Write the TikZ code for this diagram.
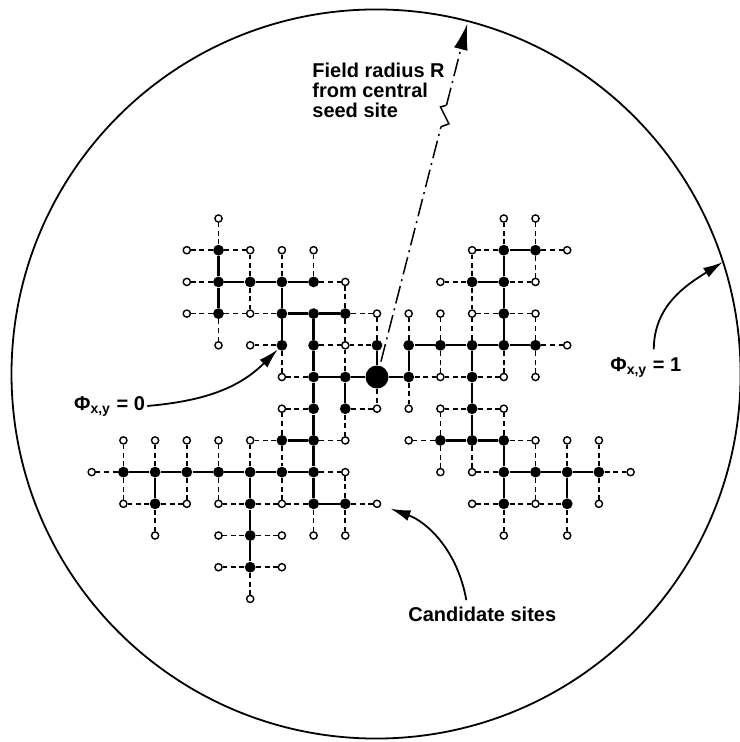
\documentclass[tikz,border=0pt]{standalone}
\usepackage{fontspec}
\setmainfont{Liberation Sans}
\usetikzlibrary{arrows.meta}

\begin{document}
\begin{tikzpicture}[x=15.85pt, y=15.85pt, >={Latex[length=10pt,width=5.5pt]},
  grown/.style={circle, fill=black, inner sep=0pt, minimum size=5.4pt},
  cand/.style={circle, draw, fill=white, line width=0.7pt, inner sep=0pt, minimum size=3.6pt},
  seedsite/.style={circle, fill=black, inner sep=0pt, minimum size=11.5pt},
  bond/.style={line width=1.15pt},
  link/.style={line width=0.85pt, dash pattern=on 2.5pt off 1.8pt},
  radius/.style={line width=0.75pt, dash pattern=on 9pt off 2.5pt on 1pt off 2.5pt},
  pointer/.style={line width=0.9pt, ->},
  lbl/.style={font=\bfseries\fontsize{10}{10}\selectfont, inner sep=1pt}]

\useasboundingbox (-11.893,-11.514) rectangle (11.420,11.893);

% Field boundary
\draw[line width=0.9pt] (-0.03,0.095) circle (11.5);

% Central seed site
\node[seedsite] (s0_0) at (0,0) {};

% Grown (occupied) sites
\foreach \i/\j in {-5/4, -5/3, -4/3, -3/3, -2/3, -5/2, -3/2, -2/2, -1/2, -3/1, -2/1, 0/1, -2/0, -1/0,
  -2/-1, -1/-1, -3/-2, -2/-2, -8/-3, -7/-3, -6/-3, -5/-3, -4/-3, -3/-3, -2/-3, -7/-4, -4/-4, -2/-4, -1/-4, -4/-5, -4/-6,
  1/1, 2/1, 3/1, 4/1, 5/1, 1/0, 3/0, 4/2, 3/3, 4/3, 4/4, 5/4,
  3/-1, 2/-2, 3/-2, 4/-2, 4/-3, 5/-3, 6/-3, 7/-3, 4/-4, 6/-4}
  \node[grown] (s\i_\j) at (\i,\j) {};

% Candidate sites
\foreach \i/\j in {-5/5, -6/4, -4/4, -3/4, -2/4, -6/3, -1/3, -6/2, -4/2, 0/2, -5/1, -4/1, -1/1, -3/0,
  -3/-1, 0/-1, -4/-2, -1/-2, -8/-2, -7/-2, -6/-2, -5/-2, -9/-3, -1/-3, -8/-4, -6/-4, -5/-4, -3/-4, 0/-4,
  -7/-5, -5/-5, -3/-5, -2/-5, -1/-5, -5/-6, -3/-6, -4/-7,
  4/5, 5/5, 3/4, 6/4, 2/3, 5/3, 1/2, 2/2, 3/2, 5/2, 6/1, 2/0, 4/0, 5/0, 1/-1, 2/-1, 4/-1, 1/-2,
  5/-2, 6/-2, 7/-2, 2/-3, 3/-3, 8/-3, 3/-4, 5/-4, 7/-4, 4/-5, 6/-5}
  \node[cand] (s\i_\j) at (\i,\j) {};

% Bonds of the cluster
\foreach \a/\b/\c/\d in {0/0/1/0, 0/0/-1/0, 0/0/0/1,
  -1/0/-2/0, -2/0/-2/1, -2/1/-2/2, -2/2/-3/2, -2/2/-1/2, -3/2/-3/1, -3/2/-3/3, -3/3/-4/3, -4/3/-5/3,
  -3/3/-2/3, -5/3/-5/4, -5/3/-5/2,
  -2/0/-2/-1, -1/0/-1/-1, -2/-1/-2/-2, -2/-2/-3/-2, -2/-2/-2/-3, -8/-3/-7/-3, -7/-3/-6/-3, -6/-3/-5/-3,
  -5/-3/-4/-3, -4/-3/-3/-3, -3/-3/-2/-3, -7/-3/-7/-4, -4/-3/-4/-4, -4/-4/-4/-5, -4/-5/-4/-6,
  -2/-3/-2/-4, -2/-4/-1/-4,
  1/0/1/1, 1/1/2/1, 2/1/3/1, 3/1/4/1, 4/1/5/1, 4/1/4/2, 4/2/4/3, 4/3/4/4, 3/3/4/3, 4/4/5/4, 3/1/3/0,
  3/0/3/-1, 3/-1/3/-2, 2/-2/3/-2, 3/-2/4/-2, 4/-2/4/-3, 4/-3/5/-3, 5/-3/6/-3, 6/-3/7/-3, 4/-3/4/-4, 6/-3/6/-4}
  \draw[bond] (s\a_\b) -- (s\c_\d);

% Links to candidate sites
\foreach \a/\b/\c/\d in {-5/4/-5/5, -5/4/-6/4, -5/4/-4/4, -4/3/-4/4, -3/3/-3/4, -2/3/-2/4, -5/3/-6/3,
  -2/3/-1/3, -1/2/-1/3, -5/2/-6/2, -5/2/-4/2, -4/3/-4/2, -3/2/-4/2, -1/2/0/2, 0/1/0/2, -5/2/-5/1,
  -3/1/-4/1, -1/2/-1/1, -2/1/-1/1, 0/1/-1/1, -1/0/-1/1, -3/1/-3/0, -2/0/-3/0,
  -2/-1/-3/-1, -3/-2/-3/-1, 0/0/0/-1, -1/-1/0/-1, -3/-2/-4/-2, -4/-3/-4/-2, -1/-1/-1/-2, -2/-2/-1/-2,
  -3/-2/-3/-3,
  -8/-3/-8/-2, -7/-3/-7/-2, -6/-3/-6/-2, -5/-3/-5/-2, -8/-3/-9/-3, -2/-3/-1/-3, -1/-4/-1/-3,
  -8/-3/-8/-4, -7/-4/-8/-4, -6/-3/-6/-4, -7/-4/-6/-4, -5/-3/-5/-4, -4/-4/-5/-4, -3/-3/-3/-4,
  -4/-4/-3/-4, -2/-4/-3/-4, -1/-4/0/-4, -7/-4/-7/-5, -4/-5/-5/-5, -4/-5/-3/-5, -2/-4/-2/-5,
  -1/-4/-1/-5, -4/-6/-5/-6, -4/-6/-3/-6, -4/-6/-4/-7,
  4/4/4/5, 5/4/5/5, 4/4/3/4, 3/3/3/4, 5/4/6/4, 3/3/2/3, 5/4/5/3, 4/3/5/3, 1/1/1/2, 2/1/2/2,
  3/3/3/2, 4/2/3/2, 3/1/3/2, 4/2/5/2, 5/1/5/2, 5/1/6/1, 1/0/2/0, 2/1/2/0, 3/0/2/0, 3/0/4/0,
  4/1/4/0, 5/1/5/0, 1/0/1/-1, 2/-2/2/-1, 3/-1/2/-1, 3/-1/4/-1, 4/-2/4/-1, 2/-2/1/-2, 4/-2/5/-2,
  5/-3/5/-2, 6/-3/6/-2, 7/-3/7/-2, 2/-2/2/-3, 3/-2/3/-3, 4/-3/3/-3, 7/-3/8/-3, 4/-4/3/-4,
  4/-4/5/-4, 5/-3/5/-4, 6/-4/5/-4, 7/-3/7/-4, 4/-4/4/-5, 6/-4/6/-5}
  \draw[link] (s\a_\b) -- (s\c_\d);

% Field radius from the seed, with a break
\coordinate (rtip) at (75.66:11.5);
\begin{scope}[rotate=75.66]
  \coordinate (brkA) at (8.15,0);
  \coordinate (brkB) at (8.3,-0.22);
  \coordinate (brkC) at (8.75,0.17);
  \coordinate (brkD) at (8.85,0);
\end{scope}
\draw[radius, shorten <=2pt] (s0_0) -- (brkA);
\draw[line width=0.75pt] (brkA) -- (brkB) -- (brkC) -- (brkD);
\draw[radius, -{Latex[length=13pt,width=7pt]}] (brkD) -- (rtip);

% Labels
\node[lbl, anchor=north west, align=left] (fieldlbl) at (-2.114,9.968) {Field radius R\\from central\\seed site};
\node[lbl, anchor=base west] (phi0) at (-9.631,-1.041) {Φ\textsubscript{x,y} = 0};
\node[lbl, anchor=base west] (phi1) at (7.287,0.167) {Φ\textsubscript{x,y} = 1};
\node[lbl, anchor=base west] (candlbl) at (0.915,-7.697) {Candidate sites};

% Pointers
\coordinate (rim1) at (10.915,3.628);
\draw[pointer] (phi0.east) to[out=5, in=225] (s-3_1);
\draw[pointer] ([xshift=4pt,yshift=3pt]phi1.north) to[out=90, in=212] (rim1);
\draw[pointer, shorten >=5pt] ([xshift=-8pt,yshift=2pt]candlbl.north) to[out=100, in=-20] (s0_-4);
\end{tikzpicture}
\end{document}
